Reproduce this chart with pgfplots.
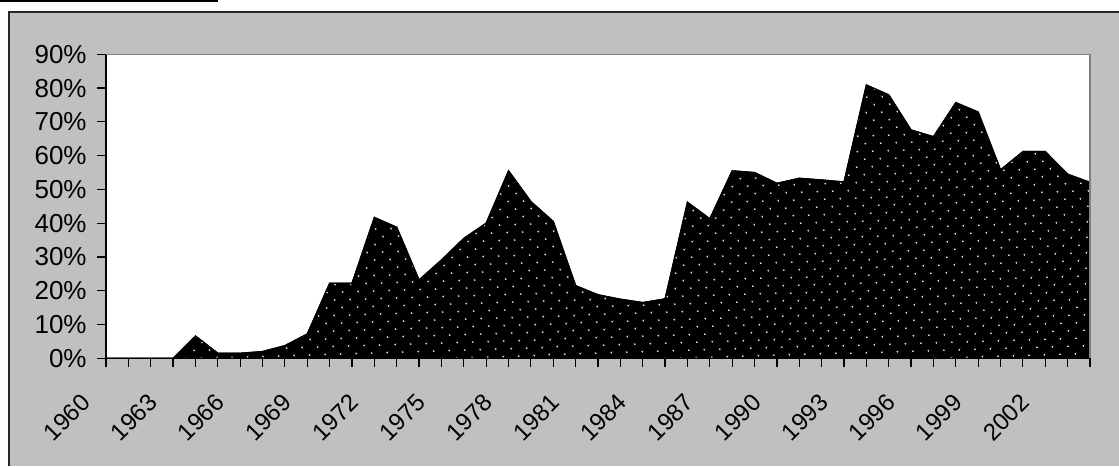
\documentclass[border=0pt]{standalone}
\usepackage{fontspec}
\setmainfont{Liberation Sans}
\usepackage{pgfplots}
\pgfplotsset{compat=1.18}
\usetikzlibrary{patterns.meta}
\definecolor{chartgray}{HTML}{C0C0C0}
\definecolor{framegray}{HTML}{808080}
\newcommand{\ylfont}{\fontsize{13}{15}\selectfont}
\newcommand{\xlfont}{\fontsize{12}{14}\selectfont}
\begin{document}
\begin{tikzpicture}
\useasboundingbox (0,0) rectangle (559.5pt,233pt);
\fill[white] (0,0) rectangle (559.5pt,233pt);
\fill[chartgray] (4pt,0) rectangle (559.5pt,227.5pt);
\draw[line width=1pt, black!85] (4.5pt,0) -- (4.5pt,227pt) -- (559.5pt,227pt);
\draw[line width=0.8pt, black] (0,232.6pt) -- (109pt,232.6pt);
\begin{axis}[
  at={(53pt,53.85pt)}, anchor=south west,
  scale only axis, width=492pt, height=152pt,
  xmin=1960, xmax=2004, ymin=0, ymax=90,
  axis x line*=bottom, axis y line*=left,
  axis line style={black, line width=0.8pt},
  axis background/.style={fill=white},
  tick align=outside,
  major tick length=4.5pt, minor tick length=4.5pt,
  every tick/.style={black, line width=0.6pt},
  xtick={1960,1963,...,2002},
  minor xtick={1960,...,2004},
  ytick={0,10,...,90},
  yticklabel={\pgfmathprintnumber{\tick}\%},
  /pgf/number format/assume math mode=true,
  /pgf/number format/1000 sep={},
  yticklabel style={font=\ylfont, inner sep=0pt, xshift=-5pt},
  xticklabel style={font=\xlfont, inner sep=0pt, xshift=-10pt, yshift=-15.5pt, rotate=45, anchor=east},
  clip=false,
]
\addplot[draw=black, line width=0.6pt, fill=black,
  postaction={pattern={Dots[distance=5.4pt, radius=0.5pt, angle=45]}, pattern color=white!92!black}]
coordinates {
(1960,0) (1961,0) (1962,0) (1963,0) (1964,6.6) (1965,1.5) (1966,1.5) (1967,2.0) (1968,3.75) (1969,7.2)
(1970,22.2) (1971,22.2) (1972,41.7) (1973,38.8) (1974,23.2) (1975,29.1) (1976,35.5) (1977,40.0) (1978,55.5) (1979,46.4)
(1980,40.5) (1981,21.5) (1982,18.8) (1983,17.5) (1984,16.5) (1985,17.6) (1986,46.2) (1987,41.3) (1988,55.5) (1989,55.0)
(1990,51.8) (1991,53.3) (1992,52.8) (1993,52.2) (1994,80.9) (1995,78.0) (1996,67.6) (1997,65.6) (1998,75.7) (1999,72.9)
(2000,55.8) (2001,61.2) (2002,61.2) (2003,54.5) (2004,52.1)
} \closedcycle;
\draw[framegray, line width=0.8pt] (rel axis cs:0,1) -- (rel axis cs:1,1) -- (rel axis cs:1,0);
\end{axis}
\end{tikzpicture}
\end{document}
